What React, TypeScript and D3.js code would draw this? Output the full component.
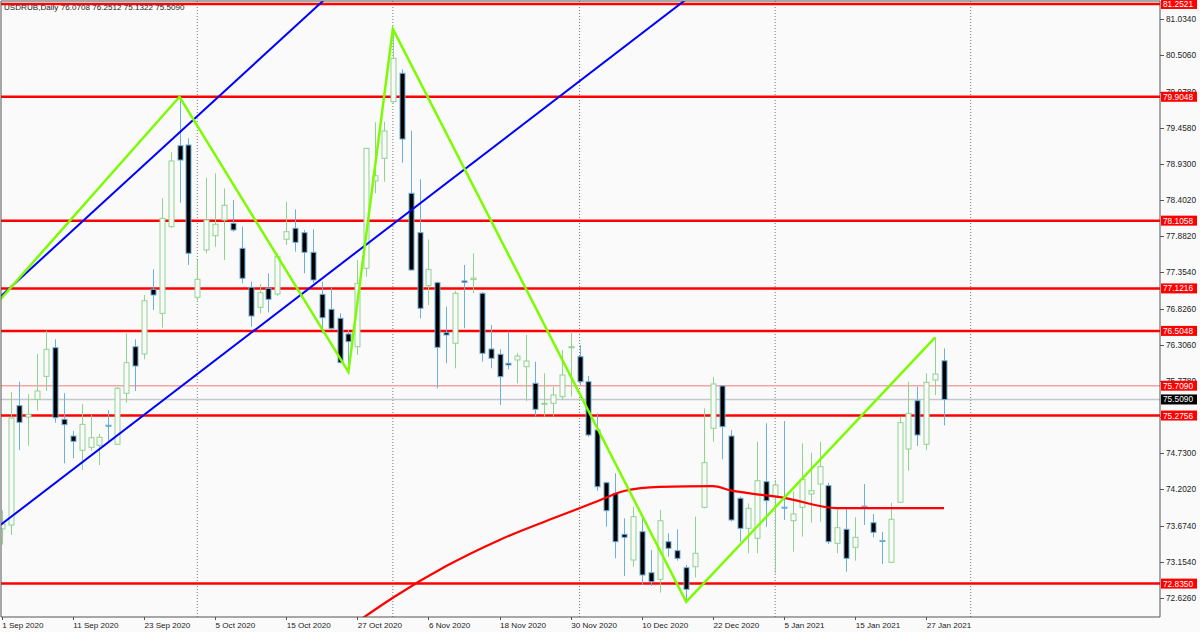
import React from 'react';
import * as d3 from 'd3';

const W = 1200;
const H = 632;
const PL = 1;
const PR = 1160;
const PT = 1;
const PB = 617;

const title = 'USDRUB,Daily  76.0708 76.2512 75.1322 75.5090';

const dateLabels = ['1 Sep 2020', '11 Sep 2020', '23 Sep 2020', '5 Oct 2020', '15 Oct 2020', '27 Oct 2020', '6 Nov 2020', '18 Nov 2020', '30 Nov 2020', '10 Dec 2020', '22 Dec 2020', '5 Jan 2021', '15 Jan 2021', '27 Jan 2021'];
const dateBars = [0, 8, 16, 24, 32, 40, 48, 56, 64, 72, 80, 88, 96, 104];
const priceTicks = [81.034, 80.506, 79.978, 79.458, 78.93, 78.402, 77.882, 77.354, 76.826, 76.306, 75.778, 75.25, 74.73, 74.202, 73.674, 73.154, 72.626];
const separatorBars = [22, 44, 65, 87, 109];

const opens = [73.63, 73.686, 75.419, 75.254, 75.511, 75.845, 76.261, 75.221, 74.978, 74.771, 74.814, 74.843, 75.135, 74.858, 75.599, 76.275, 76.169, 77.109, 76.76, 78.018, 79.194, 79.204, 76.993, 77.68, 77.887, 78.115, 78.067, 77.704, 77.138, 76.847, 77.123, 77.04, 77.835, 77.995, 77.931, 77.646, 77.036, 76.818, 76.688, 76.46, 76.275, 77.414, 78.682, 79.011, 79.833, 80.246, 78.503, 77.931, 77.161, 77.205, 76.479, 76.325, 77.23, 77.25, 77.051, 76.242, 76.165, 76.034, 76.082, 75.985, 75.744, 75.44, 75.453, 75.549, 76.26, 76.13, 75.767, 75.066, 74.3, 74.146, 73.551, 73.178, 73.589, 72.993, 72.897, 73.443, 73.313, 73.066, 73.08, 73.943, 75.09, 75.705, 74.978, 74.074, 73.638, 73.493, 74.315, 74.107, 73.945, 73.749, 73.943, 74.136, 74.281, 74.257, 73.42, 73.624, 73.362, 73.96, 73.719, 73.46, 73.144, 74.016, 74.79, 75.491, 74.858, 75.792, 76.0708];
const highs = [73.9, 75.617, 75.767, 75.584, 76.169, 76.508, 76.383, 75.599, 75.051, 75.443, 75.283, 75.007, 75.356, 75.69, 76.47, 76.383, 77.026, 77.399, 78.43, 79.1, 79.905, 79.302, 77.534, 78.729, 78.793, 78.575, 78.406, 78.018, 77.219, 77.186, 77.341, 77.632, 78.381, 78.271, 77.97, 77.98, 77.219, 77.138, 76.76, 76.518, 77.534, 79.16, 79.534, 79.543, 80.889, 80.304, 79.412, 78.706, 77.835, 77.219, 76.856, 77.088, 77.462, 77.632, 77.07, 76.59, 76.237, 76.494, 76.184, 76.445, 76.057, 75.889, 75.694, 76.227, 76.493, 76.3, 75.85, 75.308, 74.315, 74.437, 73.783, 73.952, 73.807, 73.323, 73.904, 73.565, 73.624, 73.105, 73.807, 75.381, 75.831, 75.719, 75.066, 74.097, 74.0, 74.896, 75.163, 74.34, 75.196, 74.17, 74.872, 74.736, 74.896, 74.3, 73.928, 73.914, 73.798, 74.281, 73.846, 73.585, 74.01, 75.259, 75.767, 75.694, 75.889, 76.41, 76.2512];
const lows = [73.4, 73.541, 74.775, 74.838, 75.346, 75.632, 75.172, 74.582, 74.655, 74.485, 74.765, 74.557, 74.896, 74.848, 75.462, 75.632, 76.092, 76.808, 76.551, 77.999, 78.366, 77.462, 76.95, 77.632, 77.727, 77.534, 77.945, 77.196, 76.566, 76.76, 76.775, 77.011, 77.752, 77.655, 77.341, 77.196, 76.47, 76.518, 76.034, 75.91, 76.155, 77.292, 78.503, 78.671, 79.81, 78.947, 77.38, 76.688, 76.881, 75.671, 76.034, 75.962, 76.542, 77.051, 76.057, 75.962, 75.429, 75.947, 75.744, 75.487, 75.259, 75.259, 75.259, 75.501, 75.549, 75.72, 74.968, 74.184, 73.661, 73.202, 72.945, 73.08, 72.815, 72.8, 72.703, 73.226, 73.168, 72.568, 72.926, 73.928, 74.896, 74.64, 73.734, 73.443, 73.275, 73.275, 73.661, 72.984, 73.759, 73.298, 73.516, 73.719, 73.734, 73.41, 73.275, 73.008, 73.168, 73.686, 73.507, 73.12, 73.14, 74.01, 74.475, 74.833, 74.775, 75.574, 75.1322];
const closes = [73.7, 75.24, 75.177, 75.294, 75.632, 76.238, 75.244, 75.143, 74.901, 75.148, 74.954, 74.96, 75.121, 75.671, 76.043, 75.995, 76.943, 77.026, 78.14, 78.972, 78.986, 77.632, 77.254, 78.115, 78.053, 78.329, 77.97, 77.269, 76.721, 77.059, 76.964, 77.582, 77.945, 77.791, 77.646, 77.244, 76.696, 76.542, 76.043, 76.348, 77.196, 79.156, 78.758, 79.408, 80.463, 79.291, 77.389, 76.833, 77.399, 76.266, 76.445, 77.051, 77.21, 77.27, 76.179, 76.107, 75.84, 76.01, 76.14, 76.068, 75.366, 75.453, 75.574, 75.864, 76.275, 75.767, 74.993, 74.242, 73.894, 73.443, 73.507, 73.807, 72.96, 72.863, 73.748, 73.348, 73.202, 72.752, 73.275, 74.591, 75.734, 75.114, 73.759, 73.638, 73.928, 74.329, 74.039, 74.267, 73.935, 73.846, 74.35, 74.184, 74.533, 73.443, 73.647, 73.202, 73.507, 73.95, 73.58, 73.45, 73.769, 75.172, 75.308, 74.993, 75.758, 75.879, 75.509];

const levels = [81.2521, 79.9048, 78.1058, 77.1216, 76.5048, 75.2756, 72.835];
const thinLevel = 75.709;
const bidLevel = 75.509;

const zigBars = [-1, 20, 39, 44, 77, 105];
const zigVals = [76.84, 79.905, 75.91, 80.889, 72.57, 76.41];

const upperChBars = [0, 36];
const upperChVals = [77.02, 81.28];
const lowerChBars = [0, 77];
const lowerChVals = [73.7, 81.32];

const maBars = [40, 44, 50, 56, 63, 67, 70, 74, 80, 82, 84, 88, 94, 100, 106];
const maVals = [72.28, 72.63, 73.09, 73.47, 73.83, 74.03, 74.18, 74.24, 74.25, 74.19, 74.15, 74.08, 73.93, 73.93, 73.93];

const FONT = "'Liberation Sans', Arial, sans-serif";
const BULL = '#8fd38f';
const BEAR_EDGE = '#6cb0dc';

export default function App() {
  const x = d3.scaleLinear().domain([0, 130]).range([1.7, 1.7 + 8.89 * 130]);
  const y = d3.scaleLinear().domain([72.626, 81.034]).range([598, 19]);
  const fmt = d3.format('.4f');

  const extend = (bars: number[], vals: number[]) => {
    const s = (vals[1] - vals[0]) / (bars[1] - bars[0]);
    const b0 = -5;
    const b1 = 135;
    return [
      [x(b0), y(vals[0] + s * (b0 - bars[0]))],
      [x(b1), y(vals[0] + s * (b1 - bars[0]))],
    ];
  };
  const up = extend(upperChBars, upperChVals);
  const lo = extend(lowerChBars, lowerChVals);

  const zigLine = d3.line<number>().x((d) => x(zigBars[d])).y((d) => y(zigVals[d]));
  const maLine = d3
    .line<number>()
    .x((d) => x(maBars[d]))
    .y((d) => y(maVals[d]))
    .curve(d3.curveMonotoneX);

  const bw = 5;

  return (
    <svg width={W} height={H} style={{ position: 'absolute', left: 0, top: 0, background: '#fafafa' }} fontFamily={FONT}>
      <defs>
        <clipPath id="plot">
          <rect x={PL} y={PT} width={PR - PL} height={PB - PT} />
        </clipPath>
      </defs>
      <rect x={0} y={0} width={W} height={H} fill="#fafafa" />
      <g clipPath="url(#plot)">
        {separatorBars.map((b) => (
          <line key={b} x1={x(b)} x2={x(b)} y1={PT} y2={PB} stroke="#777" strokeWidth={1} strokeDasharray="1,2" />
        ))}
        <line x1={PL} x2={PR} y1={y(bidLevel)} y2={y(bidLevel)} stroke="#c4c8cc" strokeWidth={1.5} />
        <line x1={PL} x2={PR} y1={y(thinLevel)} y2={y(thinLevel)} stroke="#f7a3a3" strokeWidth={1.5} />
        {levels.map((l) => (
          <line key={l} x1={PL} x2={PR} y1={y(l)} y2={y(l)} stroke="#ff0000" strokeWidth={2.5} />
        ))}
        {opens.map((o, i) => {
          const c = closes[i];
          const bull = c >= o;
          const cx = Math.round(x(i)) + 0.5;
          const top = y(Math.max(o, c));
          const bot = y(Math.min(o, c));
          const col = bull ? BULL : BEAR_EDGE;
          return (
            <g key={i}>
              <line x1={cx} x2={cx} y1={y(highs[i])} y2={y(lows[i])} stroke={col} strokeWidth={1} />
              <rect
                x={cx - bw / 2}
                y={top}
                width={bw}
                height={Math.max(bot - top, 1)}
                fill={bull ? '#fafafa' : '#000'}
                stroke={col}
                strokeWidth={1}
              />
            </g>
          );
        })}
        <path d={maLine(d3.range(maBars.length)) || ''} fill="none" stroke="#ff0000" strokeWidth={2.2} />
        <line x1={up[0][0]} y1={up[0][1]} x2={up[1][0]} y2={up[1][1]} stroke="#0000ff" strokeWidth={2} />
        <line x1={lo[0][0]} y1={lo[0][1]} x2={lo[1][0]} y2={lo[1][1]} stroke="#0000ff" strokeWidth={2} />
        <path d={zigLine(d3.range(zigBars.length)) || ''} fill="none" stroke="#7cfc00" strokeWidth={2.5} />
      </g>
      {/* frame */}
      <line x1={PL} x2={PL} y1={PT} y2={PB} stroke="#555" strokeWidth={1} />
      <line x1={PR} x2={PR} y1={PT} y2={PB} stroke="#555" strokeWidth={1} />
      <line x1={PL} x2={PR} y1={PB} y2={PB} stroke="#555" strokeWidth={1} />
      <line x1={PL} x2={PR} y1={PT} y2={PT} stroke="#555" strokeWidth={1} />
      {/* price axis */}
      {priceTicks.map((t) => (
        <g key={t}>
          <line x1={PR} x2={PR + 4} y1={Math.round(y(t)) + 0.5} y2={Math.round(y(t)) + 0.5} stroke="#555" />
          <text x={PR + 6} y={y(t) + 3} fontSize={8.3} fill="#222">
            {fmt(t)}
          </text>
        </g>
      ))}
      {levels.concat([thinLevel]).map((l) => (
        <g key={'lab' + l}>
          <rect x={PR + 1} y={y(l) - 5} width={36} height={10} fill="#ff0000" />
          <text x={PR + 3} y={y(l) + 3} fontSize={8.3} fill="#fff">
            {fmt(l)}
          </text>
        </g>
      ))}
      <g>
        <rect x={PR + 1} y={y(bidLevel) - 5} width={36} height={10} fill="#000" />
        <text x={PR + 3} y={y(bidLevel) + 3} fontSize={8.3} fill="#fff">
          {fmt(bidLevel)}
        </text>
      </g>
      {/* time axis */}
      {dateBars.map((b, i) => (
        <g key={b}>
          <line x1={Math.round(x(b)) + 0.5} x2={Math.round(x(b)) + 0.5} y1={PB} y2={PB + 3} stroke="#555" />
          <text x={x(b) + 0.5} y={627.5} fontSize={8.1} fill="#222">
            {dateLabels[i]}
          </text>
        </g>
      ))}
      <text x={4} y={10} fontSize={8.1} fill="#222">
        {title}
      </text>
    </svg>
  );
}
